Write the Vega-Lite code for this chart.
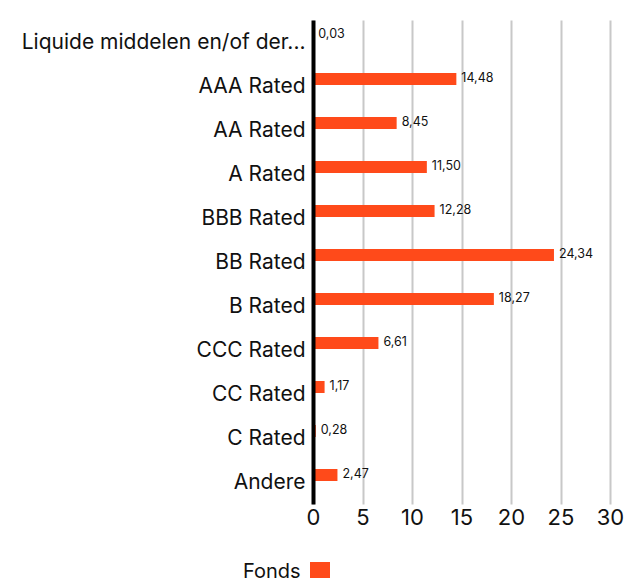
{
  "$schema": "https://vega.github.io/schema/vega-lite/v6.json",
  "width": 297,
  "height": 484,
  "autosize": {"type": "none"},
  "padding": {"left": 313, "top": 20, "right": 23, "bottom": 74},
  "background": "white",
  "config": {
    "view": {"stroke": null},
    "font": "Inter",
    "locale": {"number": {"decimal": ",", "thousands": ".", "grouping": [3], "currency": ["€", ""]}}
  },
  "data": {
    "values": [
      {"categorie": "Liquide middelen en/of der...", "reeks": "Fonds", "waarde": 0.03},
      {"categorie": "AAA Rated", "reeks": "Fonds", "waarde": 14.48},
      {"categorie": "AA Rated", "reeks": "Fonds", "waarde": 8.45},
      {"categorie": "A Rated", "reeks": "Fonds", "waarde": 11.50},
      {"categorie": "BBB Rated", "reeks": "Fonds", "waarde": 12.28},
      {"categorie": "BB Rated", "reeks": "Fonds", "waarde": 24.34},
      {"categorie": "B Rated", "reeks": "Fonds", "waarde": 18.27},
      {"categorie": "CCC Rated", "reeks": "Fonds", "waarde": 6.61},
      {"categorie": "CC Rated", "reeks": "Fonds", "waarde": 1.17},
      {"categorie": "C Rated", "reeks": "Fonds", "waarde": 0.28},
      {"categorie": "Andere", "reeks": "Fonds", "waarde": 2.47}
    ]
  },
  "encoding": {
    "y": {
      "field": "categorie",
      "type": "nominal",
      "sort": null,
      "scale": {"paddingInner": 0, "paddingOuter": 0},
      "axis": {
        "title": null,
        "domainColor": "#000000",
        "domainWidth": 4,
        "ticks": false,
        "labelFontSize": 21,
        "labelColor": "#111111",
        "labelPadding": 8,
        "labelOffset": 1,
        "labelLimit": 400,
        "zindex": 1
      }
    },
    "x": {
      "field": "waarde",
      "type": "quantitative",
      "scale": {"domain": [0, 30], "nice": false},
      "axis": {
        "title": null,
        "values": [0, 5, 10, 15, 20, 25, 30],
        "grid": true,
        "gridColor": "#c8c8c8",
        "gridWidth": 2,
        "domain": false,
        "ticks": false,
        "labelFontSize": 22,
        "labelColor": "#111111",
        "labelPadding": 3,
        "labelFlush": false
      }
    }
  },
  "layer": [
    {
      "mark": {"type": "bar", "size": 12, "yOffset": -7},
      "encoding": {
        "color": {
          "field": "reeks",
          "type": "nominal",
          "scale": {"range": ["#ff4a1a"]},
          "legend": {
            "orient": "none",
            "legendX": -70,
            "legendY": 542,
            "title": "Fonds",
            "titleOrient": "left",
            "titleFontSize": 20,
            "titleFontWeight": "normal",
            "titleColor": "#111111",
            "titlePadding": 9,
            "labelExpr": "''",
            "symbolType": "square",
            "symbolSize": 400,
            "symbolStrokeWidth": 0,
            "symbolOpacity": 1
          }
        }
      }
    },
    {
      "mark": {"type": "text", "align": "left", "baseline": "middle", "dx": 5, "yOffset": -8, "fontSize": 12.5, "color": "#111111"},
      "encoding": {
        "text": {"field": "waarde", "type": "quantitative", "format": ".2f"}
      }
    }
  ]
}
